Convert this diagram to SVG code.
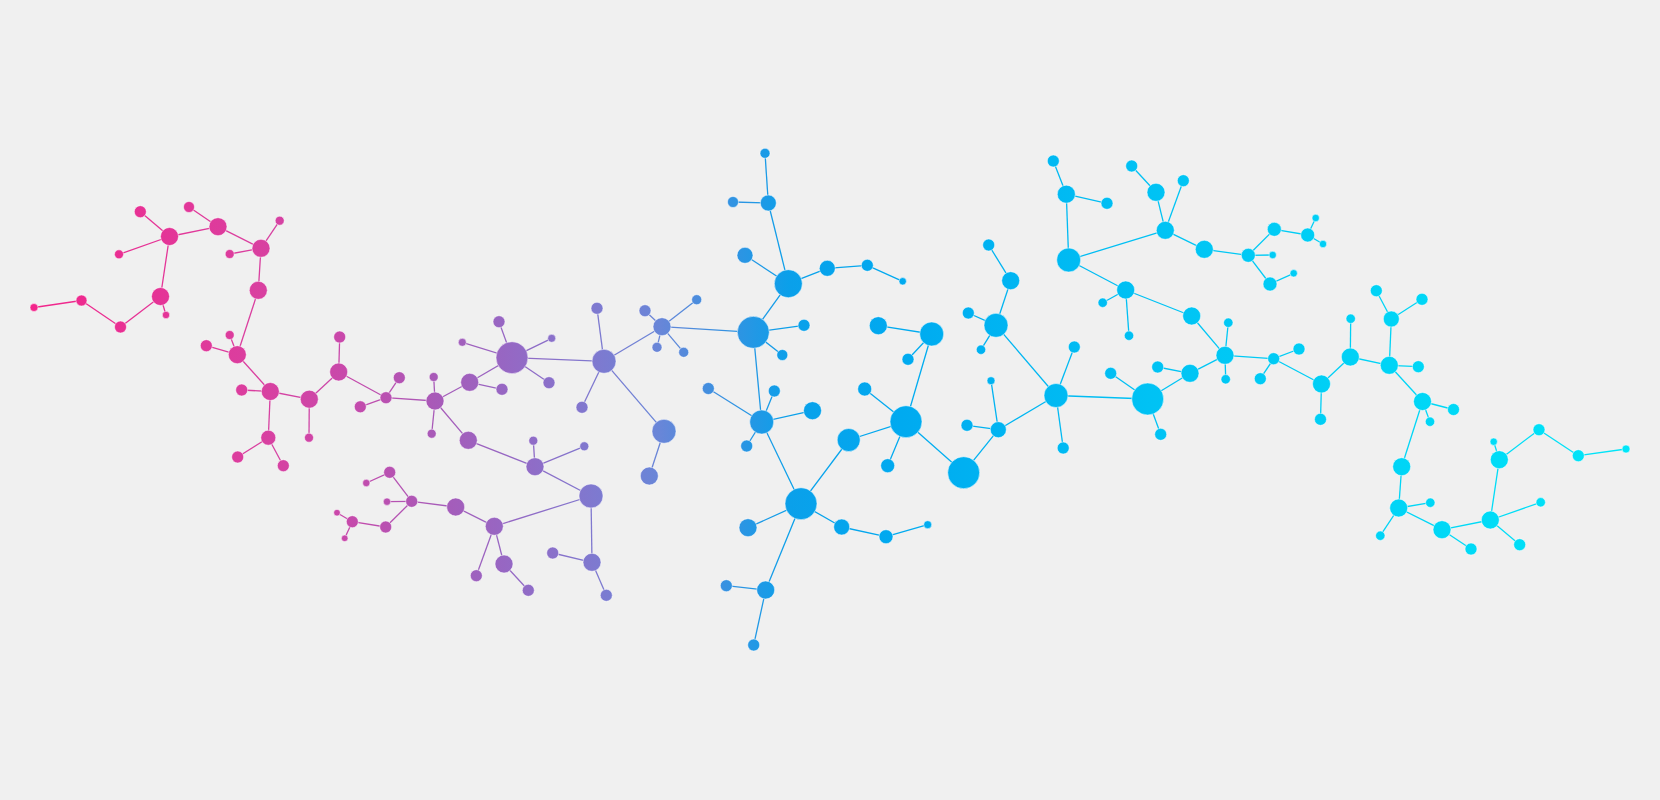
<svg xmlns="http://www.w3.org/2000/svg" width="1660" height="800" viewBox="0 0 1660 800">
<defs>
<linearGradient id="g" gradientUnits="userSpaceOnUse" x1="30" y1="0" x2="1630" y2="0">
<stop offset="0" stop-color="#f3248a"/>
<stop offset="0.144" stop-color="#d940a0"/>
<stop offset="0.194" stop-color="#c948aa"/>
<stop offset="0.253" stop-color="#a85ab8"/>
<stop offset="0.301" stop-color="#9568c4"/>
<stop offset="0.356" stop-color="#7d7ad0"/>
<stop offset="0.394" stop-color="#6886d8"/>
<stop offset="0.431" stop-color="#3a90e0"/>
<stop offset="0.475" stop-color="#0aa0ea"/>
<stop offset="0.544" stop-color="#00aaf0"/>
<stop offset="0.70" stop-color="#00c2f4"/>
<stop offset="1" stop-color="#00e6f8"/>
</linearGradient>
</defs>
<style>
.e line{stroke:url(#g);stroke-width:1.3;fill:none}
.n circle{fill:url(#g);stroke:#ffffff;stroke-opacity:0.5;stroke-width:1}
</style>
<rect x="0" y="0" width="1660" height="800" fill="#f0f0f0"/>
<g id="connectors" class="e">
<line x1="34" y1="307.5" x2="81.5" y2="300.5"/>
<line x1="81.5" y1="300.5" x2="120.5" y2="327"/>
<line x1="120.5" y1="327" x2="160.5" y2="296.5"/>
<line x1="160.5" y1="296.5" x2="166" y2="315"/>
<line x1="160.5" y1="296.5" x2="169.5" y2="236.5"/>
<line x1="169.5" y1="236.5" x2="140.3" y2="211.7"/>
<line x1="169.5" y1="236.5" x2="119" y2="254.3"/>
<line x1="169.5" y1="236.5" x2="218" y2="226.7"/>
<line x1="218" y1="226.7" x2="189" y2="207"/>
<line x1="218" y1="226.7" x2="261" y2="248.3"/>
<line x1="261" y1="248.3" x2="279.7" y2="220.7"/>
<line x1="261" y1="248.3" x2="229.7" y2="254"/>
<line x1="261" y1="248.3" x2="258.3" y2="290.3"/>
<line x1="258.3" y1="290.3" x2="237.3" y2="354.7"/>
<line x1="237.3" y1="354.7" x2="229.7" y2="335"/>
<line x1="237.3" y1="354.7" x2="206.3" y2="345.7"/>
<line x1="237.3" y1="354.7" x2="270.3" y2="391.5"/>
<line x1="270.3" y1="391.5" x2="241.7" y2="390"/>
<line x1="270.3" y1="391.5" x2="268.3" y2="437.7"/>
<line x1="268.3" y1="437.7" x2="237.7" y2="457"/>
<line x1="268.3" y1="437.7" x2="283.3" y2="465.7"/>
<line x1="270.3" y1="391.5" x2="309.3" y2="399.2"/>
<line x1="309.3" y1="399.2" x2="309" y2="437.7"/>
<line x1="309.3" y1="399.2" x2="338.7" y2="372"/>
<line x1="338.7" y1="372" x2="339.7" y2="337"/>
<line x1="338.7" y1="372" x2="386" y2="397.7"/>
<line x1="386" y1="397.7" x2="399.3" y2="377.7"/>
<line x1="386" y1="397.7" x2="360.3" y2="406.8"/>
<line x1="386" y1="397.7" x2="435" y2="401"/>
<line x1="435" y1="401" x2="433.7" y2="377"/>
<line x1="435" y1="401" x2="431.7" y2="433.7"/>
<line x1="435" y1="401" x2="468.3" y2="440.3"/>
<line x1="435" y1="401" x2="469.7" y2="382.3"/>
<line x1="469.7" y1="382.3" x2="502" y2="389.3"/>
<line x1="469.7" y1="382.3" x2="512" y2="357.7"/>
<line x1="512" y1="357.7" x2="499" y2="321.7"/>
<line x1="512" y1="357.7" x2="462.3" y2="342.3"/>
<line x1="512" y1="357.7" x2="551.7" y2="338.3"/>
<line x1="512" y1="357.7" x2="549" y2="382.7"/>
<line x1="512" y1="357.7" x2="604" y2="361.3"/>
<line x1="468.3" y1="440.3" x2="535" y2="466.7"/>
<line x1="535" y1="466.7" x2="533.3" y2="440.7"/>
<line x1="535" y1="466.7" x2="584.3" y2="446.3"/>
<line x1="535" y1="466.7" x2="591" y2="496"/>
<line x1="389.7" y1="472.3" x2="366.3" y2="483"/>
<line x1="389.7" y1="472.3" x2="411.7" y2="501.3"/>
<line x1="387" y1="501.7" x2="411.7" y2="501.3"/>
<line x1="411.7" y1="501.3" x2="385.7" y2="527"/>
<line x1="385.7" y1="527" x2="352.3" y2="521.7"/>
<line x1="352.3" y1="521.7" x2="337" y2="512.7"/>
<line x1="352.3" y1="521.7" x2="344.7" y2="538.3"/>
<line x1="411.7" y1="501.3" x2="455.7" y2="507"/>
<line x1="455.7" y1="507" x2="494.3" y2="526.3"/>
<line x1="494.3" y1="526.3" x2="504" y2="564"/>
<line x1="504" y1="564" x2="528.3" y2="590.3"/>
<line x1="494.3" y1="526.3" x2="476.3" y2="575.7"/>
<line x1="494.3" y1="526.3" x2="591" y2="496"/>
<line x1="591" y1="496" x2="592" y2="562.3"/>
<line x1="592" y1="562.3" x2="552.7" y2="553"/>
<line x1="592" y1="562.3" x2="606.3" y2="595.3"/>
<line x1="604" y1="361.3" x2="582" y2="407.3"/>
<line x1="604" y1="361.3" x2="664" y2="431.3"/>
<line x1="664" y1="431.3" x2="649.3" y2="476"/>
<line x1="604" y1="361.3" x2="597" y2="308.3"/>
<line x1="604" y1="361.3" x2="662" y2="326.7"/>
<line x1="662" y1="326.7" x2="645" y2="310.7"/>
<line x1="662" y1="326.7" x2="696.7" y2="299.7"/>
<line x1="662" y1="326.7" x2="657" y2="347.3"/>
<line x1="662" y1="326.7" x2="683.7" y2="352.3"/>
<line x1="662" y1="326.7" x2="753.3" y2="332.3"/>
<line x1="753.3" y1="332.3" x2="804" y2="325.3"/>
<line x1="753.3" y1="332.3" x2="782.3" y2="355"/>
<line x1="753.3" y1="332.3" x2="788.3" y2="283.7"/>
<line x1="753.3" y1="332.3" x2="761.7" y2="422"/>
<line x1="788.3" y1="283.7" x2="745" y2="255.3"/>
<line x1="788.3" y1="283.7" x2="768.3" y2="203"/>
<line x1="768.3" y1="203" x2="765" y2="153.3"/>
<line x1="768.3" y1="203" x2="733" y2="202"/>
<line x1="788.3" y1="283.7" x2="827.3" y2="268.3"/>
<line x1="827.3" y1="268.3" x2="867.3" y2="265.3"/>
<line x1="867.3" y1="265.3" x2="902.7" y2="281.3"/>
<line x1="761.7" y1="422" x2="708.3" y2="388.5"/>
<line x1="761.7" y1="422" x2="774.3" y2="391"/>
<line x1="761.7" y1="422" x2="812.5" y2="410.7"/>
<line x1="761.7" y1="422" x2="746.7" y2="446"/>
<line x1="761.7" y1="422" x2="801" y2="503.7"/>
<line x1="801" y1="503.7" x2="748" y2="527.7"/>
<line x1="801" y1="503.7" x2="765.7" y2="590"/>
<line x1="765.7" y1="590" x2="726.3" y2="585.7"/>
<line x1="765.7" y1="590" x2="753.7" y2="645"/>
<line x1="801" y1="503.7" x2="848.7" y2="440"/>
<line x1="848.7" y1="440" x2="906" y2="421.7"/>
<line x1="906" y1="421.7" x2="864.7" y2="389"/>
<line x1="906" y1="421.7" x2="931.7" y2="334"/>
<line x1="931.7" y1="334" x2="878.3" y2="325.7"/>
<line x1="931.7" y1="334" x2="908" y2="359.3"/>
<line x1="906" y1="421.7" x2="887.7" y2="465.7"/>
<line x1="906" y1="421.7" x2="963.7" y2="472.7"/>
<line x1="963.7" y1="472.7" x2="998.3" y2="429.7"/>
<line x1="998.3" y1="429.7" x2="967" y2="425.3"/>
<line x1="998.3" y1="429.7" x2="991" y2="380.7"/>
<line x1="998.3" y1="429.7" x2="1056" y2="395.5"/>
<line x1="1056" y1="395.5" x2="996" y2="325.3"/>
<line x1="996" y1="325.3" x2="1010.7" y2="280.7"/>
<line x1="1010.7" y1="280.7" x2="988.7" y2="245"/>
<line x1="996" y1="325.3" x2="968.3" y2="313"/>
<line x1="996" y1="325.3" x2="981" y2="349.7"/>
<line x1="1056" y1="395.5" x2="1074.3" y2="347"/>
<line x1="1056" y1="395.5" x2="1063.2" y2="448"/>
<line x1="1056" y1="395.5" x2="1147.7" y2="399"/>
<line x1="801" y1="503.7" x2="841.7" y2="527"/>
<line x1="841.7" y1="527" x2="886" y2="536.7"/>
<line x1="886" y1="536.7" x2="927.7" y2="524.7"/>
<line x1="1053.3" y1="161" x2="1066.3" y2="194.2"/>
<line x1="1066.3" y1="194.2" x2="1107" y2="203.3"/>
<line x1="1066.3" y1="194.2" x2="1068.7" y2="260"/>
<line x1="1068.7" y1="260" x2="1165.3" y2="230.3"/>
<line x1="1165.3" y1="230.3" x2="1156" y2="192.3"/>
<line x1="1156" y1="192.3" x2="1131.7" y2="166"/>
<line x1="1165.3" y1="230.3" x2="1183.3" y2="180.7"/>
<line x1="1165.3" y1="230.3" x2="1204.3" y2="249.3"/>
<line x1="1204.3" y1="249.3" x2="1248.3" y2="255.3"/>
<line x1="1248.3" y1="255.3" x2="1274.3" y2="229.3"/>
<line x1="1274.3" y1="229.3" x2="1307.7" y2="235"/>
<line x1="1307.7" y1="235" x2="1315.7" y2="218"/>
<line x1="1307.7" y1="235" x2="1323" y2="244"/>
<line x1="1248.3" y1="255.3" x2="1272.7" y2="255"/>
<line x1="1248.3" y1="255.3" x2="1270" y2="284"/>
<line x1="1270" y1="284" x2="1293.7" y2="273.3"/>
<line x1="1068.7" y1="260" x2="1125.7" y2="290"/>
<line x1="1125.7" y1="290" x2="1102.7" y2="302.7"/>
<line x1="1125.7" y1="290" x2="1129" y2="335.7"/>
<line x1="1125.7" y1="290" x2="1191.7" y2="316"/>
<line x1="1191.7" y1="316" x2="1225" y2="355.3"/>
<line x1="1225" y1="355.3" x2="1228.3" y2="322.7"/>
<line x1="1225" y1="355.3" x2="1225.7" y2="379.3"/>
<line x1="1225" y1="355.3" x2="1190" y2="373.3"/>
<line x1="1190" y1="373.3" x2="1157.7" y2="367"/>
<line x1="1190" y1="373.3" x2="1147.7" y2="399"/>
<line x1="1147.7" y1="399" x2="1110.7" y2="373.3"/>
<line x1="1147.7" y1="399" x2="1160.7" y2="434.3"/>
<line x1="1225" y1="355.3" x2="1273.7" y2="358.7"/>
<line x1="1273.7" y1="358.7" x2="1299" y2="349"/>
<line x1="1273.7" y1="358.7" x2="1260.3" y2="378.7"/>
<line x1="1273.7" y1="358.7" x2="1321.5" y2="384"/>
<line x1="1321.5" y1="384" x2="1320.5" y2="419.3"/>
<line x1="1321.5" y1="384" x2="1350.3" y2="357"/>
<line x1="1350.3" y1="357" x2="1350.7" y2="318.7"/>
<line x1="1350.3" y1="357" x2="1389.3" y2="365.3"/>
<line x1="1389.3" y1="365.3" x2="1391.3" y2="319"/>
<line x1="1391.3" y1="319" x2="1376.3" y2="290.7"/>
<line x1="1391.3" y1="319" x2="1422" y2="299.3"/>
<line x1="1389.3" y1="365.3" x2="1418.3" y2="366.7"/>
<line x1="1389.3" y1="365.3" x2="1422.5" y2="401.5"/>
<line x1="1422.5" y1="401.5" x2="1453.5" y2="409.5"/>
<line x1="1422.5" y1="401.5" x2="1430" y2="421.7"/>
<line x1="1422.5" y1="401.5" x2="1401.7" y2="466.7"/>
<line x1="1401.7" y1="466.7" x2="1398.7" y2="508"/>
<line x1="1398.7" y1="508" x2="1430.3" y2="502.7"/>
<line x1="1398.7" y1="508" x2="1380.3" y2="535.7"/>
<line x1="1398.7" y1="508" x2="1442" y2="529.7"/>
<line x1="1442" y1="529.7" x2="1471" y2="549"/>
<line x1="1442" y1="529.7" x2="1490.3" y2="520"/>
<line x1="1490.3" y1="520" x2="1540.7" y2="502.3"/>
<line x1="1490.3" y1="520" x2="1519.7" y2="544.7"/>
<line x1="1490.3" y1="520" x2="1499.3" y2="459.7"/>
<line x1="1499.3" y1="459.7" x2="1493.7" y2="441.7"/>
<line x1="1499.3" y1="459.7" x2="1539" y2="429.7"/>
<line x1="1539" y1="429.7" x2="1578.3" y2="455.7"/>
<line x1="1578.3" y1="455.7" x2="1626" y2="449"/>
</g>
<g id="nodes" class="n">
<g id="n1"><circle cx="34" cy="307.5" r="4"/></g>
<g id="n2"><circle cx="81.5" cy="300.5" r="5.5"/></g>
<g id="n3"><circle cx="120.5" cy="327" r="6"/></g>
<g id="n4"><circle cx="160.5" cy="296.5" r="9"/></g>
<g id="n5"><circle cx="166" cy="315" r="3.7"/></g>
<g id="n6"><circle cx="169.5" cy="236.5" r="9"/></g>
<g id="n7"><circle cx="140.3" cy="211.7" r="6"/></g>
<g id="n8"><circle cx="119" cy="254.3" r="4.5"/></g>
<g id="n9"><circle cx="189" cy="207" r="5.5"/></g>
<g id="n10"><circle cx="218" cy="226.7" r="9"/></g>
<g id="n11"><circle cx="261" cy="248.3" r="9"/></g>
<g id="n12"><circle cx="279.7" cy="220.7" r="4.5"/></g>
<g id="n13"><circle cx="229.7" cy="254" r="4.5"/></g>
<g id="n14"><circle cx="258.3" cy="290.3" r="9"/></g>
<g id="n15"><circle cx="237.3" cy="354.7" r="9"/></g>
<g id="n16"><circle cx="229.7" cy="335" r="4.5"/></g>
<g id="n17"><circle cx="206.3" cy="345.7" r="6"/></g>
<g id="n18"><circle cx="270.3" cy="391.5" r="9"/></g>
<g id="n19"><circle cx="241.7" cy="390" r="6"/></g>
<g id="n20"><circle cx="268.3" cy="437.7" r="7.5"/></g>
<g id="n21"><circle cx="237.7" cy="457" r="6"/></g>
<g id="n22"><circle cx="283.3" cy="465.7" r="6"/></g>
<g id="n23"><circle cx="309.3" cy="399.2" r="9"/></g>
<g id="n24"><circle cx="338.7" cy="372" r="9"/></g>
<g id="n25"><circle cx="339.7" cy="337" r="6"/></g>
<g id="n26"><circle cx="386" cy="397.7" r="6"/></g>
<g id="n27"><circle cx="399.3" cy="377.7" r="6"/></g>
<g id="n28"><circle cx="360.3" cy="406.8" r="6"/></g>
<g id="n29"><circle cx="435" cy="401" r="9"/></g>
<g id="n30"><circle cx="433.7" cy="377" r="4.5"/></g>
<g id="n31"><circle cx="469.7" cy="382.3" r="9"/></g>
<g id="n32"><circle cx="502" cy="389.3" r="6"/></g>
<g id="n33"><circle cx="512" cy="357.7" r="16"/></g>
<g id="n34"><circle cx="499" cy="321.7" r="6"/></g>
<g id="n35"><circle cx="462.3" cy="342.3" r="4"/></g>
<g id="n36"><circle cx="551.7" cy="338.3" r="4"/></g>
<g id="n37"><circle cx="549" cy="382.7" r="6"/></g>
<g id="n38"><circle cx="604" cy="361.3" r="12"/></g>
<g id="n39"><circle cx="309" cy="437.7" r="4.5"/></g>
<g id="n40"><circle cx="431.7" cy="433.7" r="4.5"/></g>
<g id="n41"><circle cx="468.3" cy="440.3" r="9"/></g>
<g id="n42"><circle cx="535" cy="466.7" r="9"/></g>
<g id="n43"><circle cx="533.3" cy="440.7" r="4.5"/></g>
<g id="n44"><circle cx="584.3" cy="446.3" r="4.5"/></g>
<g id="n46"><circle cx="389.7" cy="472.3" r="6"/></g>
<g id="n47"><circle cx="366.3" cy="483" r="3.7"/></g>
<g id="n48"><circle cx="411.7" cy="501.3" r="6"/></g>
<g id="n49"><circle cx="387" cy="501.7" r="3.7"/></g>
<g id="n50"><circle cx="385.7" cy="527" r="6"/></g>
<g id="n51"><circle cx="352.3" cy="521.7" r="6"/></g>
<g id="n52"><circle cx="337" cy="512.7" r="3.3"/></g>
<g id="n53"><circle cx="344.7" cy="538.3" r="3.3"/></g>
<g id="n54"><circle cx="455.7" cy="507" r="9"/></g>
<g id="n55"><circle cx="494.3" cy="526.3" r="9"/></g>
<g id="n56"><circle cx="504" cy="564" r="9"/></g>
<g id="n57"><circle cx="476.3" cy="575.7" r="6"/></g>
<g id="n58"><circle cx="528.3" cy="590.3" r="6"/></g>
<g id="n59"><circle cx="552.7" cy="553" r="6"/></g>
<g id="n60"><circle cx="591" cy="496" r="12"/></g>
<g id="n61"><circle cx="592" cy="562.3" r="9"/></g>
<g id="n62"><circle cx="606.3" cy="595.3" r="6"/></g>
<g id="n63"><circle cx="582" cy="407.3" r="6"/></g>
<g id="n64"><circle cx="664" cy="431.3" r="12"/></g>
<g id="n65"><circle cx="649.3" cy="476" r="9"/></g>
<g id="n66"><circle cx="761.7" cy="422" r="12"/></g>
<g id="n67"><circle cx="708.3" cy="388.5" r="6"/></g>
<g id="n68"><circle cx="774.3" cy="391" r="6"/></g>
<g id="n69"><circle cx="812.5" cy="410.7" r="9"/></g>
<g id="n70"><circle cx="746.7" cy="446" r="6"/></g>
<g id="n71"><circle cx="801" cy="503.7" r="16"/></g>
<g id="n72"><circle cx="748" cy="527.7" r="9"/></g>
<g id="n73"><circle cx="765.7" cy="590" r="9"/></g>
<g id="n74"><circle cx="726.3" cy="585.7" r="6"/></g>
<g id="n75"><circle cx="753.7" cy="645" r="6"/></g>
<g id="n76"><circle cx="753.3" cy="332.3" r="16"/></g>
<g id="n77"><circle cx="906" cy="421.7" r="16"/></g>
<g id="n78"><circle cx="765" cy="153.3" r="5"/></g>
<g id="n79"><circle cx="768.3" cy="203" r="8"/></g>
<g id="n80"><circle cx="733" cy="202" r="5.5"/></g>
<g id="n81"><circle cx="788.3" cy="283.7" r="14"/></g>
<g id="n82"><circle cx="745" cy="255.3" r="8"/></g>
<g id="n83"><circle cx="827.3" cy="268.3" r="8"/></g>
<g id="n84"><circle cx="804" cy="325.3" r="6"/></g>
<g id="n85"><circle cx="782.3" cy="355" r="5.5"/></g>
<g id="n86"><circle cx="662" cy="326.7" r="9"/></g>
<g id="n87"><circle cx="645" cy="310.7" r="6"/></g>
<g id="n88"><circle cx="696.7" cy="299.7" r="5"/></g>
<g id="n89"><circle cx="657" cy="347.3" r="5"/></g>
<g id="n90"><circle cx="683.7" cy="352.3" r="5"/></g>
<g id="n91"><circle cx="597" cy="308.3" r="6"/></g>
<g id="n92"><circle cx="867.3" cy="265.3" r="6"/></g>
<g id="n93"><circle cx="902.7" cy="281.3" r="3.7"/></g>
<g id="n95"><circle cx="878.3" cy="325.7" r="9"/></g>
<g id="n96"><circle cx="931.7" cy="334" r="12"/></g>
<g id="n97"><circle cx="908" cy="359.3" r="6"/></g>
<g id="n98"><circle cx="864.7" cy="389" r="7"/></g>
<g id="n99"><circle cx="988.7" cy="245" r="6"/></g>
<g id="n100"><circle cx="1010.7" cy="280.7" r="9"/></g>
<g id="n101"><circle cx="996" cy="325.3" r="12"/></g>
<g id="n102"><circle cx="968.3" cy="313" r="6"/></g>
<g id="n103"><circle cx="981" cy="349.7" r="4.7"/></g>
<g id="n104"><circle cx="1056" cy="395.5" r="12"/></g>
<g id="n105"><circle cx="1074.3" cy="347" r="6"/></g>
<g id="n106"><circle cx="991" cy="380.7" r="4"/></g>
<g id="n113"><circle cx="848.7" cy="440" r="11.5"/></g>
<g id="n114"><circle cx="887.7" cy="465.7" r="7"/></g>
<g id="n115"><circle cx="841.7" cy="527" r="8"/></g>
<g id="n116"><circle cx="886" cy="536.7" r="7"/></g>
<g id="n117"><circle cx="927.7" cy="524.7" r="4"/></g>
<g id="n118"><circle cx="963.7" cy="472.7" r="16"/></g>
<g id="n119"><circle cx="998.3" cy="429.7" r="8"/></g>
<g id="n120"><circle cx="967" cy="425.3" r="6"/></g>
<g id="n122"><circle cx="1063.2" cy="448" r="6"/></g>
<g id="b1"><circle cx="1053.3" cy="161" r="6"/></g>
<g id="b2"><circle cx="1066.3" cy="194.2" r="9"/></g>
<g id="b3"><circle cx="1068.7" cy="260" r="12"/></g>
<g id="b4"><circle cx="1107" cy="203.3" r="6"/></g>
<g id="b5"><circle cx="1131.7" cy="166" r="6"/></g>
<g id="b6"><circle cx="1156" cy="192.3" r="9"/></g>
<g id="b7"><circle cx="1183.3" cy="180.7" r="6"/></g>
<g id="b8"><circle cx="1165.3" cy="230.3" r="9"/></g>
<g id="b9"><circle cx="1204.3" cy="249.3" r="9"/></g>
<g id="b10"><circle cx="1248.3" cy="255.3" r="7"/></g>
<g id="b11"><circle cx="1274.3" cy="229.3" r="7"/></g>
<g id="b12"><circle cx="1307.7" cy="235" r="7"/></g>
<g id="b13"><circle cx="1315.7" cy="218" r="3.7"/></g>
<g id="b14"><circle cx="1323" cy="244" r="3.7"/></g>
<g id="b15"><circle cx="1272.7" cy="255" r="3.7"/></g>
<g id="b16"><circle cx="1270" cy="284" r="7"/></g>
<g id="b17"><circle cx="1293.7" cy="273.3" r="3.7"/></g>
<g id="b18"><circle cx="1125.7" cy="290" r="9"/></g>
<g id="b19"><circle cx="1102.7" cy="302.7" r="4.7"/></g>
<g id="b20"><circle cx="1129" cy="335.7" r="4.7"/></g>
<g id="b21"><circle cx="1191.7" cy="316" r="9"/></g>
<g id="b22"><circle cx="1225" cy="355.3" r="9"/></g>
<g id="b23"><circle cx="1228.3" cy="322.7" r="4.7"/></g>
<g id="b24"><circle cx="1225.7" cy="379.3" r="4.7"/></g>
<g id="b25"><circle cx="1190" cy="373.3" r="9"/></g>
<g id="b26"><circle cx="1157.7" cy="367" r="6"/></g>
<g id="b27"><circle cx="1147.7" cy="399" r="16"/></g>
<g id="b28"><circle cx="1110.7" cy="373.3" r="6"/></g>
<g id="b29"><circle cx="1273.7" cy="358.7" r="6"/></g>
<g id="b30"><circle cx="1299" cy="349" r="6"/></g>
<g id="b31"><circle cx="1260.3" cy="378.7" r="6"/></g>
<g id="b32"><circle cx="1321.5" cy="384" r="9"/></g>
<g id="b35"><circle cx="1160.7" cy="434.3" r="6"/></g>
<g id="b36"><circle cx="1320.5" cy="419.3" r="6"/></g>
<g id="c1"><circle cx="1376.3" cy="290.7" r="6"/></g>
<g id="c2"><circle cx="1422" cy="299.3" r="6"/></g>
<g id="c3"><circle cx="1391.3" cy="319" r="8"/></g>
<g id="c4"><circle cx="1350.7" cy="318.7" r="4.7"/></g>
<g id="c5"><circle cx="1350.3" cy="357" r="9"/></g>
<g id="c6"><circle cx="1389.3" cy="365.3" r="9"/></g>
<g id="c7"><circle cx="1418.3" cy="366.7" r="6"/></g>
<g id="c8"><circle cx="1422.5" cy="401.5" r="9"/></g>
<g id="c9"><circle cx="1453.5" cy="409.5" r="6"/></g>
<g id="c10"><circle cx="1430" cy="421.7" r="4.7"/></g>
<g id="c11"><circle cx="1401.7" cy="466.7" r="9"/></g>
<g id="c12"><circle cx="1398.7" cy="508" r="9"/></g>
<g id="c13"><circle cx="1430.3" cy="502.7" r="4.7"/></g>
<g id="c14"><circle cx="1380.3" cy="535.7" r="4.7"/></g>
<g id="c15"><circle cx="1442" cy="529.7" r="9"/></g>
<g id="c16"><circle cx="1471" cy="549" r="6"/></g>
<g id="c17"><circle cx="1490.3" cy="520" r="9"/></g>
<g id="c18"><circle cx="1540.7" cy="502.3" r="4.7"/></g>
<g id="c19"><circle cx="1519.7" cy="544.7" r="6"/></g>
<g id="c20"><circle cx="1499.3" cy="459.7" r="9"/></g>
<g id="c21"><circle cx="1493.7" cy="441.7" r="3.7"/></g>
<g id="c22"><circle cx="1539" cy="429.7" r="6"/></g>
<g id="c23"><circle cx="1578.3" cy="455.7" r="6"/></g>
<g id="c24"><circle cx="1626" cy="449" r="4"/></g>
</g>
</svg>
